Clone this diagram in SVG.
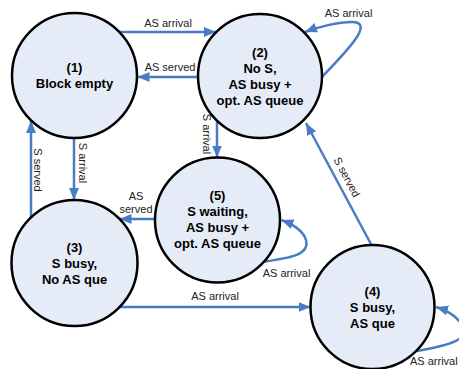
<svg xmlns="http://www.w3.org/2000/svg" width="459" height="369" viewBox="0 0 459 369">
<style>
.node circle{fill:#e6ecf7;stroke:#000;stroke-width:2.5}
.node text{font-family:"Liberation Sans",Arial,sans-serif;font-size:13px;font-weight:bold;fill:#000;text-anchor:middle}
.edge{fill:none;stroke:#4a7cc4;stroke-width:2.5;marker-end:url(#ah)}
.lbl{font-family:"Liberation Sans",Arial,sans-serif;font-size:11px;fill:#222;text-anchor:middle}
</style>
<defs>
<marker id="ah" markerUnits="userSpaceOnUse" markerWidth="13" markerHeight="11" refX="12" refY="5" orient="auto">
<path d="M0,0 L12,5 L0,10 z" fill="#4a7cc4"/>
</marker>
</defs>
<rect width="459" height="369" fill="#fff"/>
<g id="connectors">
<path class="edge" d="M118 32 L216 32"/>
<path class="edge" d="M198 77 L137.5 77"/>
<path class="edge" d="M217 121 L217 157.5"/>
<path class="edge" d="M74 138 L74 200"/>
<path class="edge" d="M31 218 L31 121"/>
<path class="edge" d="M155 219 L119.5 219"/>
<path class="edge" d="M118 307 L310.5 307"/>
<path class="edge" d="M372 246 L306 123"/>
<path class="edge" d="M322 77 C348 50, 375 22, 352 22 C338 22, 318 27, 305 32"/>
<path class="edge" d="M262 262 C290 258, 310 255, 306 240 C303 230, 292 224, 281.5 220"/>
<path class="edge" d="M417 351 C450 345, 470 340, 462 325 C456 315, 446 310, 436 307"/>
<text class="lbl" x="168" y="27">AS arrival</text>
<text class="lbl" x="170" y="71">AS served</text>
<text class="lbl" transform="translate(203,134) rotate(90)">S arrival</text>
<text class="lbl" transform="translate(79,163) rotate(90)">S arrival</text>
<text class="lbl" transform="translate(34,170) rotate(90)">S served</text>
<text class="lbl" x="136" y="200">AS</text>
<text class="lbl" x="136" y="213">served</text>
<text class="lbl" x="215" y="300">AS arrival</text>
<text class="lbl" transform="translate(343.5,179) rotate(62)">S served</text>
<text class="lbl" x="348.5" y="16.5">AS arrival</text>
<text class="lbl" x="286.5" y="277">AS arrival</text>
<text class="lbl" x="410" y="365" style="text-anchor:start">AS arrival</text>
</g>
<g id="node1" class="node">
<circle cx="74.5" cy="75.5" r="62.5"/>
<text x="74.5" y="72">(1)</text>
<text x="74.5" y="88">Block empty</text>
</g>
<g id="node2" class="node">
<circle cx="260" cy="76" r="62"/>
<text x="260" y="56.5">(2)</text>
<text x="260" y="72.5">No S,</text>
<text x="260" y="88.5">AS busy +</text>
<text x="260" y="104.5">opt. AS queue</text>
</g>
<g id="node5" class="node">
<circle cx="217.5" cy="220" r="62.5"/>
<text x="217.5" y="199.5">(5)</text>
<text x="217.5" y="215.5">S waiting,</text>
<text x="217.5" y="231.5">AS busy +</text>
<text x="217.5" y="247.5">opt. AS queue</text>
</g>
<g id="node3" class="node">
<circle cx="74.5" cy="263" r="63"/>
<text x="74.5" y="251.5">(3)</text>
<text x="74.5" y="267.5">S busy,</text>
<text x="74.5" y="283.5">No AS que</text>
</g>
<g id="node4" class="node">
<circle cx="372.5" cy="307" r="62"/>
<text x="372.5" y="295.5">(4)</text>
<text x="372.5" y="311.5">S busy,</text>
<text x="372.5" y="327.5">AS que</text>
</g>
</svg>
